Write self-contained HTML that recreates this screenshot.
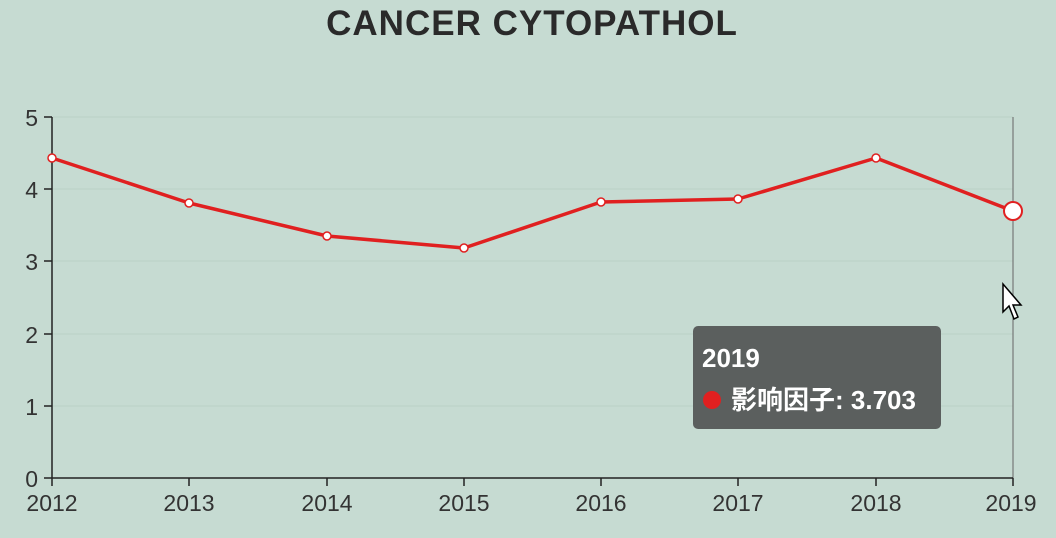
<!DOCTYPE html>
<html><head><meta charset="utf-8"><style>
html,body{margin:0;padding:0;background:#c6dbd2;}
svg{display:block;font-family:"Liberation Sans","Noto Sans CJK SC",sans-serif;}
</style></head><body>
<svg width="1056" height="538" viewBox="0 0 1056 538">
<rect width="1056" height="538" fill="#c6dbd2"/>
<text x="532" y="35" text-anchor="middle" font-size="35" font-weight="bold" letter-spacing="1" fill="#2a2a2a">CANCER CYTOPATHOL</text>
<g stroke="#b9d0c7" stroke-width="1">
<line x1="52" y1="117" x2="1013" y2="117"/><line x1="52" y1="189" x2="1013" y2="189"/>
<line x1="52" y1="261" x2="1013" y2="261"/><line x1="52" y1="334" x2="1013" y2="334"/>
<line x1="52" y1="406" x2="1013" y2="406"/>
</g>
<line x1="1013" y1="117" x2="1013" y2="478" stroke="#666" stroke-width="1"/>
<g stroke="#222" stroke-width="1.5">
<line x1="52" y1="117" x2="52" y2="478"/>
<line x1="52" y1="478" x2="1013" y2="478"/>
<line x1="44" y1="117" x2="52" y2="117"/><line x1="44" y1="189" x2="52" y2="189"/>
<line x1="44" y1="261" x2="52" y2="261"/><line x1="44" y1="334" x2="52" y2="334"/>
<line x1="44" y1="406" x2="52" y2="406"/><line x1="44" y1="478" x2="52" y2="478"/>
<line x1="52" y1="478" x2="52" y2="486"/><line x1="189" y1="478" x2="189" y2="486"/>
<line x1="327" y1="478" x2="327" y2="486"/><line x1="464" y1="478" x2="464" y2="486"/>
<line x1="601" y1="478" x2="601" y2="486"/><line x1="738" y1="478" x2="738" y2="486"/>
<line x1="876" y1="478" x2="876" y2="486"/><line x1="1013" y1="478" x2="1013" y2="486"/>
</g>
<g font-size="23" fill="#333" text-anchor="end">
<text x="38" y="126">5</text><text x="38" y="198">4</text><text x="38" y="270">3</text>
<text x="38" y="343">2</text><text x="38" y="415">1</text><text x="38" y="487">0</text>
</g>
<g font-size="23" fill="#333" text-anchor="middle">
<text x="52" y="511">2012</text><text x="189" y="511">2013</text><text x="327" y="511">2014</text>
<text x="464" y="511">2015</text><text x="601" y="511">2016</text><text x="738" y="511">2017</text>
<text x="876" y="511">2018</text><text x="1011" y="511">2019</text>
</g>
<polyline fill="none" stroke="#e02020" stroke-width="3.5" stroke-linejoin="round" points="52,158 189,203 327,236 464,248 601,202 738,199 876,158 1013,211"/>
<g fill="#fff" stroke="#e02020" stroke-width="1.5">
<circle cx="52" cy="158" r="4"/><circle cx="189" cy="203" r="4"/><circle cx="327" cy="236" r="4"/>
<circle cx="464" cy="248" r="4"/><circle cx="601" cy="202" r="4"/><circle cx="738" cy="199" r="4"/>
<circle cx="876" cy="158" r="4"/><circle cx="1013" cy="211" r="9" stroke-width="2"/>
</g>
<path d="M1003,284 L1003,312 L1009,306 L1014,319 L1018,317 L1013,305 L1021,305 Z" fill="#fff" stroke="#000" stroke-width="1.5"/>
<rect x="693" y="326" width="248" height="103" rx="5" fill="#5b5f5e"/>
<text x="702" y="367" font-size="26" font-weight="bold" fill="#fff">2019</text>
<circle cx="712" cy="400" r="9" fill="#e02020"/>
<text x="731" y="409" font-size="26" font-weight="bold" fill="#fff">影响因子: 3.703</text>
</svg>
</body></html>
